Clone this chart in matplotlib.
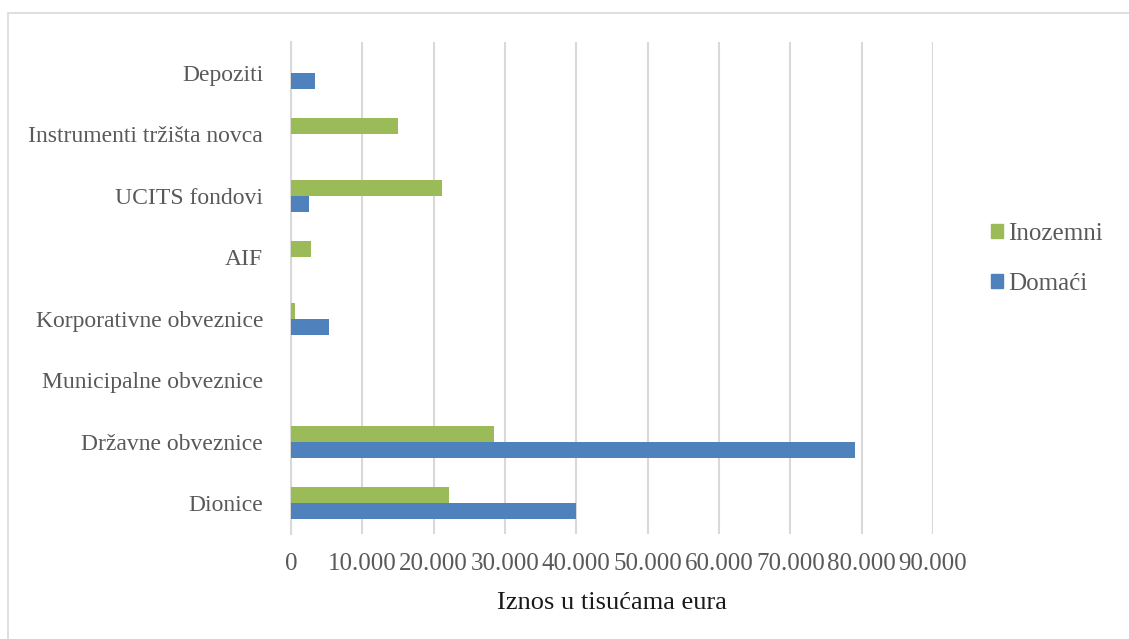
import matplotlib.pyplot as plt
from matplotlib.patches import Patch, Rectangle
from matplotlib.ticker import FuncFormatter
import numpy as np

# -------------------------- Data -------------------------- #

categories = ["Dionice", "Državne obveznice", "Municipalne obveznice",
              "Korporativne obveznice", "AIF", "UCITS fondovi",
              "Instrumenti tržišta novca", "Depoziti"]
domaci = [39950, 79000, 0, 5370, 0, 2480, 0, 3320]
inozemni = [22100, 28400, 0, 500, 2760, 21200, 14950, 0]
x_ticks = list(range(0, 90001, 10000))

BLUE = "#4F81BD"
GREEN = "#9BBB59"
TEXT = "#595959"
GRID = "#D9D9D9"

plt.rcParams['font.family'] = ['Liberation Serif', 'DejaVu Serif']

fig = plt.figure(figsize=(11.29, 6.39), dpi=100)
ax = fig.add_axes([291 / 1129, 1 - 534 / 639, (933 - 291) / 1129, (534 - 42) / 639])

y = np.arange(len(categories))
h = 0.26
ax.barh(y - h / 2, domaci, height=h, color=BLUE, label="Domaći", zorder=3)
ax.barh(y + h / 2, inozemni, height=h, color=GREEN, label="Inozemni", zorder=3)

ax.set_xlim(0, 90000)
ax.set_ylim(-0.5, len(categories) - 0.5)
ax.set_xticks(x_ticks)
ax.xaxis.set_major_formatter(FuncFormatter(lambda v, p: f"{int(v):,}".replace(",", ".")))
ax.set_yticks(y)
ax.set_yticklabels(categories)
ax.grid(axis="x", color=GRID, linewidth=1.5, zorder=0)

for s in ["top", "right", "bottom"]:
    ax.spines[s].set_visible(False)
ax.spines["left"].set_color(GRID)
ax.spines["left"].set_linewidth(1.5)
ax.tick_params(axis="both", length=0, labelcolor=TEXT)
ax.tick_params(axis="y", pad=20, labelsize=17)
ax.tick_params(axis="x", pad=14, labelsize=18)
ax.set_xlabel("Iznos u tisućama eura", fontsize=19, color="#1a1a1a", labelpad=12)

handles = [Patch(color=GREEN, label="Inozemni"), Patch(color=BLUE, label="Domaći")]
leg = fig.legend(handles=handles, loc="center left", bbox_to_anchor=(968 / 1129, 1 - 259 / 639),
                 frameon=False, fontsize=18, handlelength=0.5, handleheight=0.5,
                 handletextpad=0.2, labelspacing=1.12, labelcolor=TEXT)

# chart border (cropped at right/bottom)
fig.patches.append(Rectangle((8 / 1129, -0.1), 1.2, 1 - 13 / 639 + 0.1, transform=fig.transFigure,
                             fill=False, edgecolor=GRID, linewidth=1.2))

fig.savefig("out.png", dpi=100)
